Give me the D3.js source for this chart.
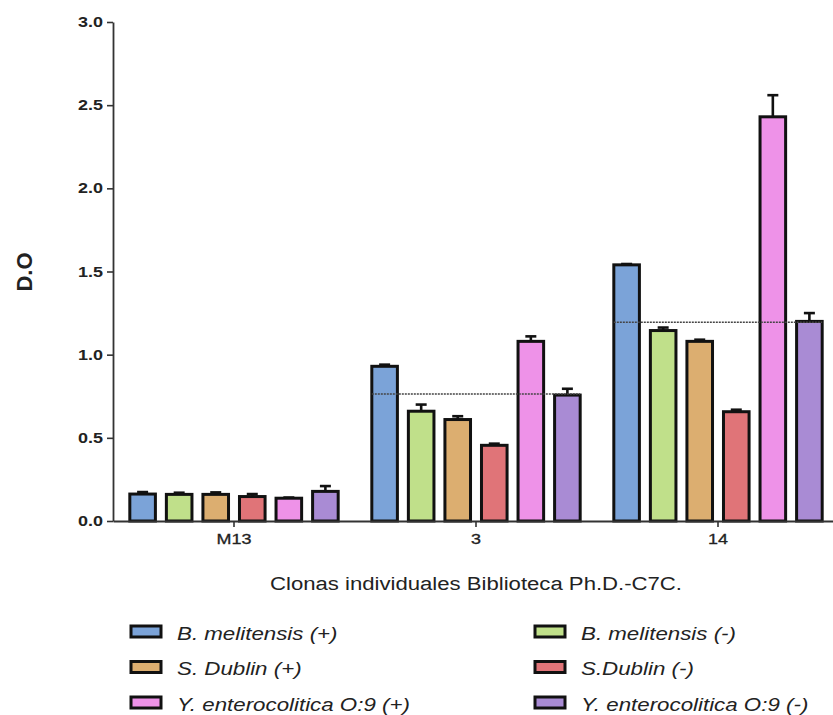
<!DOCTYPE html>
<html><head><meta charset="utf-8">
<script src="https://cdn.jsdelivr.net/npm/d3@7"></script>
<style>body{margin:0;background:#fff}svg{display:block;font-family:"Liberation Sans",Arial,sans-serif}</style>
</head><body>
<svg id="c" width="833" height="715"></svg>
<script>
const categories = ["M13", "3", "14"];
const seriesNames = ["B. melitensis (+)", "B. melitensis (-)", "S. Dublin (+)", "S.Dublin (-)", "Y. enterocolitica O:9 (+)", "Y. enterocolitica O:9 (-)"];
const seriesColors = ["#7ba3d8", "#c0e08a", "#dcae70", "#e07478", "#ee92e8", "#a98bd4"];
const bMelPos = [0.162, 0.93, 1.54];
const bMelNeg = [0.160, 0.66, 1.145];
const sDubPos = [0.160, 0.61, 1.08];
const sDubNeg = [0.147, 0.455, 0.657];
const yEntPos = [0.137, 1.08, 2.43];
const yEntNeg = [0.178, 0.757, 1.20];
const bMelPosErr = [0.012, 0.010, 0.005];
const bMelNegErr = [0.010, 0.040, 0.018];
const sDubPosErr = [0.012, 0.020, 0.010];
const sDubNegErr = [0.015, 0.010, 0.012];
const yEntPosErr = [0.004, 0.030, 0.130];
const yEntNegErr = [0.032, 0.038, 0.050];
const cutoff = [null, 0.763, 1.195];
const yTicks = [0, 0.5, 1.0, 1.5, 2.0, 2.5, 3.0];

const values = [bMelPos, bMelNeg, sDubPos, sDubNeg, yEntPos, yEntNeg];
const errors = [bMelPosErr, bMelNegErr, sDubPosErr, sDubNegErr, yEntPosErr, yEntNegErr];

const svg = d3.select("#c");
const mLeft = 113, mRight = 839, mTop = 22, mBottom = 521;
const stretch = 1.24;

const x0 = d3.scaleBand().domain(categories).range([mLeft, mRight]).padding(0);
const x1 = d3.scaleBand().domain(seriesNames).range([0, x0.bandwidth()]).paddingInner(0.30).paddingOuter(0.46);
const y = d3.scaleLinear().domain([0, 3]).range([mBottom, mTop]);

const data = [];
categories.forEach((c, ci) => seriesNames.forEach((s, si) => data.push({c, s, si, v: values[si][ci], e: errors[si][ci]})));

// bars
svg.append("g").selectAll("rect").data(data).join("rect")
  .attr("x", d => x0(d.c) + x1(d.s))
  .attr("y", d => y(d.v))
  .attr("width", x1.bandwidth())
  .attr("height", d => y(0) - y(d.v))
  .attr("fill", d => seriesColors[d.si])
  .attr("stroke", "#111").attr("stroke-width", 3);

// error bars
const eg = svg.append("g").attr("stroke", "#111").attr("stroke-width", 2.6);
data.forEach(d => {
  const cx = x0(d.c) + x1(d.s) + x1.bandwidth() / 2;
  eg.append("line").attr("x1", cx).attr("x2", cx).attr("y1", y(d.v)).attr("y2", y(d.v + d.e));
  eg.append("line").attr("x1", cx - 5.5).attr("x2", cx + 5.5).attr("y1", y(d.v + d.e)).attr("y2", y(d.v + d.e));
});

// cutoff dotted lines
categories.forEach((c, ci) => {
  if (cutoff[ci] == null) return;
  svg.append("line")
    .attr("x1", x0(c) + x1(seriesNames[0]))
    .attr("x2", x0(c) + x1(seriesNames[5]) + x1.bandwidth())
    .attr("y1", y(cutoff[ci])).attr("y2", y(cutoff[ci]))
    .attr("stroke", "#444").attr("stroke-width", 1.5).attr("stroke-dasharray", "2,1");
});

// axes
const yAxis = svg.append("g").attr("transform", `translate(${mLeft},0)`)
  .call(d3.axisLeft(y).tickValues(yTicks).tickFormat(d3.format(".1f")).tickSize(6).tickSizeOuter(0));
yAxis.select(".domain").attr("stroke", "#333").attr("stroke-width", 1.8);
yAxis.selectAll(".tick line").attr("stroke", "#333").attr("stroke-width", 1.6);
yAxis.selectAll(".tick text").attr("font-size", 14.5).attr("font-weight", "bold").attr("fill", "#222")
  .attr("x", -10 / stretch).attr("transform", `scale(${stretch},1)`)
  .attr("font-family", "Liberation Sans, Arial, sans-serif");

const xAxis = svg.append("g").attr("transform", `translate(0,${mBottom})`)
  .call(d3.axisBottom(x0).tickSize(6).tickSizeOuter(0));
xAxis.select(".domain").attr("stroke", "#333").attr("stroke-width", 1.8);
xAxis.selectAll(".tick line").attr("stroke", "#333").attr("stroke-width", 1.6);
xAxis.selectAll(".tick text").attr("font-size", 14.5).attr("fill", "#222").attr("y", 23).attr("dy", 0)
  .attr("transform", `scale(${stretch},1)`).attr("stroke", "#222").attr("stroke-width", 0.3)
  .attr("font-family", "Liberation Sans, Arial, sans-serif");

// titles
svg.append("text").attr("x", 476).attr("y", 590).attr("text-anchor", "middle")
  .attr("font-size", 18).attr("fill", "#222")
  .attr("textLength", 412).attr("lengthAdjust", "spacingAndGlyphs")
  .text("Clonas individuales Biblioteca Ph.D.-C7C.");
svg.append("text").attr("transform", "translate(32,272) rotate(-90)").attr("text-anchor", "middle")
  .attr("font-size", 22).attr("font-weight", "bold").attr("fill", "#222").text("D.O");

// legend
const legX = [131, 535], legY = [631.5, 667, 702.5];
seriesNames.forEach((s, i) => {
  const gx = legX[i % 2], gy = legY[Math.floor(i / 2)];
  const g = svg.append("g").attr("transform", `translate(${gx},${gy})`);
  g.append("rect").attr("x", 0).attr("y", -5.5).attr("width", 30).attr("height", 11)
    .attr("fill", seriesColors[i]).attr("stroke", "#111").attr("stroke-width", 3);
  g.append("text").attr("transform", `translate(46,8) scale(${stretch},1)`)
    .attr("font-size", 18).attr("font-style", "italic")
    .attr("fill", "#222").text(s);
});
</script>
</body></html>
